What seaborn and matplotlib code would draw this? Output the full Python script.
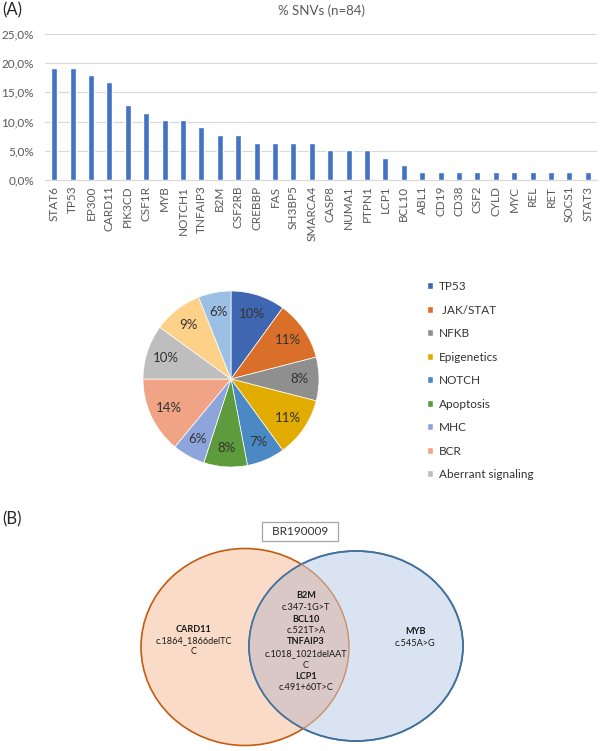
import matplotlib
matplotlib.use('Agg')
import matplotlib.pyplot as plt
import seaborn as sns
from matplotlib.patches import Patch, Ellipse
from matplotlib.ticker import FuncFormatter

# --- data ---
genes = ['STAT6', 'TP53', 'EP300', 'CARD11', 'PIK3CD', 'CSF1R', 'MYB', 'NOTCH1',
         'TNFAIP3', 'B2M', 'CSF2RB', 'CREBBP', 'FAS', 'SH3BP5', 'SMARCA4', 'CASP8',
         'NUMA1', 'PTPN1', 'LCP1', 'BCL10', 'ABL1', 'CD19', 'CD38', 'CSF2', 'CYLD',
         'MYC', 'REL', 'RET', 'SOCS1', 'STAT3']
snv_pct = [19.2, 19.2, 17.9, 16.7, 12.8, 11.5, 10.3, 10.3, 9.0, 7.7, 7.7, 6.4, 6.4,
           6.4, 6.4, 5.1, 5.1, 5.1, 3.8, 2.6, 1.3, 1.3, 1.3, 1.3, 1.3, 1.3, 1.3, 1.3,
           1.3, 1.3]

pathways = ['TP53', ' JAK/STAT', 'NFKB', 'Epigenetics', 'NOTCH', 'Apoptosis', 'MHC',
            'BCR', 'Aberrant signaling']
# last two slices have no visible legend entry
pie_pct = [10, 11, 8, 11, 7, 8, 6, 14, 10, 9, 6]
pie_colors = ['#3F67B1', '#DA6F2A', '#8F8F8F', '#E2AB00', '#4B89C5', '#5E9B3D',
              '#8DA5DA', '#F0A385', '#BEBEBE', '#FDD187', '#9CBFE4']

sample_id = 'BR190009'
left_only = [('CARD11', 'c.1864_1866delTC\nC')]
shared = [('B2M', 'c.347-1G>T'), ('BCL10', 'c.521T>A'),
          ('TNFAIP3', 'c.1018_1021delAAT\nC'), ('LCP1', 'c.491+60T>C')]
right_only = [('MYB', 'c.545A>G')]

sns.set_style('white')
plt.rcParams['font.family'] = ['Lato', 'DejaVu Sans']

W, H = 600, 751
fig = plt.figure(figsize=(6, 7.51), dpi=100)

def px_axes(x0, y0, x1, y1):
    # axes from pixel box (top-left origin)
    return fig.add_axes([x0 / W, 1 - y1 / H, (x1 - x0) / W, (y1 - y0) / H])

# --- (A) bar chart ---
ax_bar = px_axes(45, 34, 597, 180)
sns.barplot(x=genes, y=snv_pct, color='#4472C4', saturation=1, width=0.33, ax=ax_bar)
ax_bar.set_ylim(0, 25)
ax_bar.set_xlim(-0.5, len(genes) - 0.5)
ax_bar.set_yticks([0, 5, 10, 15, 20, 25])
ax_bar.yaxis.set_major_formatter(FuncFormatter(lambda v, p: f'{v:.1f}'.replace('.', ',') + '%'))
ax_bar.yaxis.grid(True, color='#D9D9D9', linewidth=0.8)
ax_bar.set_axisbelow(True)
for s in ['top', 'right', 'left']:
    ax_bar.spines[s].set_visible(False)
ax_bar.spines['bottom'].set_color('#D9D9D9')
ax_bar.tick_params(axis='both', length=0, colors='#595959', labelsize=8.5)
ax_bar.tick_params(axis='x', rotation=90, pad=4)
ax_bar.tick_params(axis='y', pad=8)
ax_bar.set_xlabel('')
ax_bar.set_ylabel('')
ax_bar.set_title('% SNVs (n=84)', fontsize=9.5, color='#595959', pad=14)

fig.text(2 / W, 1 - 10 / H, '(A)', fontsize=12, va='center', ha='left')
fig.text(2 / W, 1 - 519 / H, '(B)', fontsize=12, va='center', ha='left')

# --- pie ---
ax_pie = px_axes(143, 291, 319, 467)
ax_pie.pie(pie_pct, colors=pie_colors, startangle=90, counterclock=False,
           autopct=lambda p: f'{p:.0f}%', pctdistance=0.78,
           wedgeprops=dict(linewidth=0.5, edgecolor='white'),
           textprops=dict(fontsize=9.5, color='#333333'))
ax_pie.set_xlim(-1, 1)
ax_pie.set_ylim(-1, 1)
ax_pie.set_aspect('equal')

handles = [Patch(facecolor=c, label=n) for n, c in zip(pathways, pie_colors)]
fig.legend(handles=handles, loc='upper left', bbox_to_anchor=(427 / W, 1 - 281 / H),
           frameon=False, fontsize=8.5, handlelength=0.55, handleheight=0.55,
           handletextpad=0.45, labelspacing=1.06, borderpad=0, borderaxespad=0,
           labelcolor='#333333')

# --- (B) venn ---
ax_v = px_axes(0, 495, 600, 751)
ax_v.set_xlim(0, W)
ax_v.set_ylim(751, 495)
ax_v.axis('off')

left_c, left_w, left_h = (245, 647), 208, 197
right_c, right_w, right_h = (356, 646), 214, 190

left_e = Ellipse(left_c, left_w, left_h, facecolor='#FADBC7', edgecolor='#C55A11', lw=1.2)
ax_v.add_patch(left_e)
right_e = Ellipse(right_c, right_w, right_h, facecolor='#DAE3F2', edgecolor='#41719C', lw=1.2)
ax_v.add_patch(right_e)
inter = Ellipse(right_c, right_w, right_h, facecolor='#D9C8C5', edgecolor='none')
ax_v.add_patch(inter)
inter.set_clip_path(left_e)
right_edge = Ellipse(right_c, right_w, right_h, facecolor='none', edgecolor='#41719C', lw=1.2)
ax_v.add_patch(right_edge)
left_inner = Ellipse(left_c, left_w, left_h, facecolor='none', edgecolor='#C8906A', lw=1.0)
ax_v.add_patch(left_inner)
left_inner.set_clip_path(right_e)

def venn_text(items, x, yc, step=11.5):
    lines = []
    for gene, var in items:
        lines.append((gene, 'bold'))
        for v in var.split('\n'):
            lines.append((v, 'normal'))
    y0 = yc - (len(lines) - 1) / 2 * step
    for i, (t, w) in enumerate(lines):
        ax_v.text(x, y0 + i * step, t, ha='center', va='center', fontsize=6.6,
                  fontweight=w, color='#1a1a1a')

venn_text(left_only, 194, 640.5)
venn_text(shared, 306, 642)
venn_text(right_only, 415, 637.5)

ax_v.text(300, 531.5, '  ' + sample_id + '  ', ha='center', va='center', fontsize=8.5,
          color='#333333',
          bbox=dict(boxstyle='square,pad=0.35', facecolor='white', edgecolor='#A6A6A6', lw=0.9))

fig.savefig('out.png', dpi=100)
